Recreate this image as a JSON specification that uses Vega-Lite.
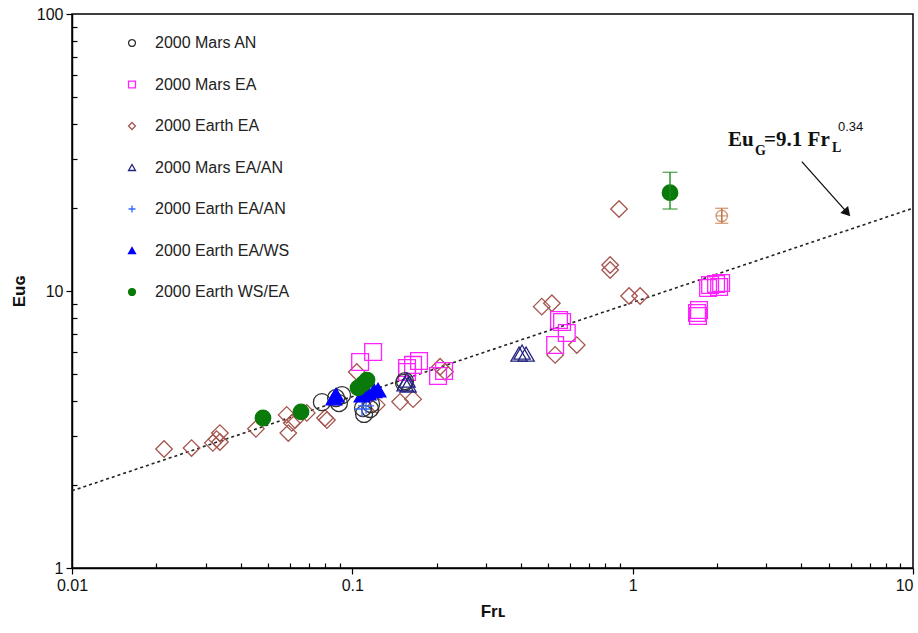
{
  "$schema": "https://vega.github.io/schema/vega-lite/v6.json",
  "width": 841,
  "height": 554,
  "autosize": {"type": "none"},
  "padding": {"left": 72, "top": 14, "right": 5, "bottom": 65},
  "background": "white",
  "config": {
    "view": {"stroke": "black", "strokeWidth": 1.5},
    "font": "Liberation Sans",
    "legend": {"orient": "none", "legendX": 52, "legendY": 21, "direction": "vertical", "rowPadding": 25.5, "labelFontSize": 16, "labelFont": "Liberation Sans", "labelColor": "#222222", "labelOffset": 15, "padding": 0, "symbolSize": 48, "symbolStrokeWidth": 1.3}
  },
  "layer": [
    {
      "data": {"values": [{"fr": 0.01, "eu": 1.90}, {"fr": 10, "eu": 19.9}]},
      "mark": {"type": "line", "strokeDash": [3, 3], "strokeWidth": 1.6, "color": "#222222"},
      "encoding": {
        "x": {"field": "fr", "type": "quantitative", "scale": {"type": "log", "domain": [0.01, 10], "nice": false},
          "title": "Frʟ",
          "axis": {
            "values": [0.01,0.02,0.03,0.04,0.05,0.06,0.07,0.08,0.09,0.1,0.2,0.3,0.4,0.5,0.6,0.7,0.8,0.9,1,2,3,4,5,6,7,8,9,10],
            "format": "~g",
            "labelExpr": "(datum.value == 0.01 || datum.value == 0.1 || datum.value == 1 || datum.value == 10) ? datum.label : ''",
            "tickSize": {"condition": {"test": "datum.value == 0.01 || datum.value == 0.1 || datum.value == 1 || datum.value == 10", "value": 6}, "value": -5},
            "labelAlign": {"condition": {"test": "datum.value == 10", "value": "right"}, "value": "center"},
            "grid": false, "domainColor": "black", "domainWidth": 1.5, "tickColor": "black", "tickWidth": 1.2,
            "labelFontSize": 16, "labelColor": "#111111", "labelFont": "Liberation Sans", "labelPadding": 3,
            "labelOverlap": false, "labelFlush": false,
            "titleFontSize": 17, "titleFontWeight": "bold", "titleColor": "#111111", "titlePadding": 10, "titleFont": "Liberation Sans"
          }
        },
        "y": {"field": "eu", "type": "quantitative", "scale": {"type": "log", "domain": [1, 100], "nice": false},
          "title": "Euɢ",
          "axis": {
            "values": [1,2,3,4,5,6,7,8,9,10,20,30,40,50,60,70,80,90,100],
            "format": "~g",
            "labelExpr": "(datum.value == 1 || datum.value == 10 || datum.value == 100) ? datum.label : ''",
            "tickSize": {"condition": {"test": "datum.value == 1 || datum.value == 10 || datum.value == 100", "value": 6}, "value": -5},
            "grid": false, "domainColor": "black", "domainWidth": 1.5, "tickColor": "black", "tickWidth": 1.2,
            "labelFontSize": 16, "labelColor": "#111111", "labelFont": "Liberation Sans", "labelPadding": 3,
            "labelOverlap": false, "labelFlush": false,
            "titleFontSize": 17, "titleFontWeight": "bold", "titleColor": "#111111", "titlePadding": 8, "titleFont": "Liberation Sans"
          }
        }
      }
    },
    {
      "data": {"values": [
        {"series": "2000 Earth EA", "fr": 0.0213, "eu": 2.69},
        {"series": "2000 Earth EA", "fr": 0.0267, "eu": 2.71},
        {"series": "2000 Earth EA", "fr": 0.0318, "eu": 2.83},
        {"series": "2000 Earth EA", "fr": 0.0328, "eu": 2.92},
        {"series": "2000 Earth EA", "fr": 0.0337, "eu": 3.07},
        {"series": "2000 Earth EA", "fr": 0.0337, "eu": 2.85},
        {"series": "2000 Earth EA", "fr": 0.0453, "eu": 3.18},
        {"series": "2000 Earth EA", "fr": 0.0583, "eu": 3.57},
        {"series": "2000 Earth EA", "fr": 0.0591, "eu": 3.07},
        {"series": "2000 Earth EA", "fr": 0.0608, "eu": 3.34},
        {"series": "2000 Earth EA", "fr": 0.0625, "eu": 3.42},
        {"series": "2000 Earth EA", "fr": 0.0688, "eu": 3.63},
        {"series": "2000 Earth EA", "fr": 0.0799, "eu": 3.48},
        {"series": "2000 Earth EA", "fr": 0.0812, "eu": 3.42},
        {"series": "2000 Earth EA", "fr": 0.1037, "eu": 5.10},
        {"series": "2000 Earth EA", "fr": 0.1222, "eu": 3.88},
        {"series": "2000 Earth EA", "fr": 0.148, "eu": 3.98},
        {"series": "2000 Earth EA", "fr": 0.1647, "eu": 4.07},
        {"series": "2000 Earth EA", "fr": 0.2056, "eu": 5.33},
        {"series": "2000 Earth EA", "fr": 0.2141, "eu": 5.11},
        {"series": "2000 Earth EA", "fr": 0.474, "eu": 8.78},
        {"series": "2000 Earth EA", "fr": 0.515, "eu": 9.03},
        {"series": "2000 Earth EA", "fr": 0.529, "eu": 5.88},
        {"series": "2000 Earth EA", "fr": 0.632, "eu": 6.38},
        {"series": "2000 Earth EA", "fr": 0.831, "eu": 12.41},
        {"series": "2000 Earth EA", "fr": 0.831, "eu": 11.91},
        {"series": "2000 Earth EA", "fr": 0.894, "eu": 19.77},
        {"series": "2000 Earth EA", "fr": 0.971, "eu": 9.59},
        {"series": "2000 Earth EA", "fr": 1.063, "eu": 9.59},
        {"series": "2000 Mars EA", "fr": 0.1066, "eu": 5.54},
        {"series": "2000 Mars EA", "fr": 0.1186, "eu": 6.02},
        {"series": "2000 Mars EA", "fr": 0.1567, "eu": 5.27},
        {"series": "2000 Mars EA", "fr": 0.1647, "eu": 5.41},
        {"series": "2000 Mars EA", "fr": 0.173, "eu": 5.59},
        {"series": "2000 Mars EA", "fr": 0.1567, "eu": 5.10},
        {"series": "2000 Mars EA", "fr": 0.2022, "eu": 4.93},
        {"series": "2000 Mars EA", "fr": 0.2125, "eu": 5.14},
        {"series": "2000 Mars EA", "fr": 0.546, "eu": 7.86},
        {"series": "2000 Mars EA", "fr": 0.560, "eu": 7.73},
        {"series": "2000 Mars EA", "fr": 0.582, "eu": 7.05},
        {"series": "2000 Mars EA", "fr": 0.529, "eu": 6.38},
        {"series": "2000 Mars EA", "fr": 1.697, "eu": 8.33},
        {"series": "2000 Mars EA", "fr": 1.711, "eu": 8.12},
        {"series": "2000 Mars EA", "fr": 1.725, "eu": 8.54},
        {"series": "2000 Mars EA", "fr": 1.858, "eu": 10.25},
        {"series": "2000 Mars EA", "fr": 1.889, "eu": 10.51},
        {"series": "2000 Mars EA", "fr": 1.984, "eu": 10.60},
        {"series": "2000 Mars EA", "fr": 2.034, "eu": 10.34},
        {"series": "2000 Mars EA", "fr": 2.068, "eu": 10.69},
        {"series": "2000 Mars AN", "fr": 0.0779, "eu": 3.97},
        {"series": "2000 Mars AN", "fr": 0.0875, "eu": 4.11},
        {"series": "2000 Mars AN", "fr": 0.0896, "eu": 3.94},
        {"series": "2000 Mars AN", "fr": 0.0919, "eu": 4.21},
        {"series": "2000 Mars AN", "fr": 0.1092, "eu": 3.78},
        {"series": "2000 Mars AN", "fr": 0.1101, "eu": 3.60},
        {"series": "2000 Mars AN", "fr": 0.1157, "eu": 3.75},
        {"series": "2000 Mars AN", "fr": 0.1166, "eu": 3.91},
        {"series": "2000 Mars AN", "fr": 0.1529, "eu": 4.66},
        {"series": "2000 Mars AN", "fr": 0.1541, "eu": 4.73},
        {"series": "2000 Mars EA/AN", "fr": 0.1542, "eu": 4.62},
        {"series": "2000 Mars EA/AN", "fr": 0.1567, "eu": 4.77},
        {"series": "2000 Mars EA/AN", "fr": 0.158, "eu": 4.58},
        {"series": "2000 Mars EA/AN", "fr": 0.3933, "eu": 5.92},
        {"series": "2000 Mars EA/AN", "fr": 0.4031, "eu": 6.02},
        {"series": "2000 Mars EA/AN", "fr": 0.4166, "eu": 5.92},
        {"series": "2000 Earth EA/AN", "fr": 0.1083, "eu": 3.75},
        {"series": "2000 Earth EA/AN", "fr": 0.1119, "eu": 3.85},
        {"series": "2000 Earth EA/WS", "fr": 0.0860, "eu": 4.11},
        {"series": "2000 Earth EA/WS", "fr": 0.0875, "eu": 4.21},
        {"series": "2000 Earth EA/WS", "fr": 0.1083, "eu": 4.21},
        {"series": "2000 Earth EA/WS", "fr": 0.1138, "eu": 4.28},
        {"series": "2000 Earth EA/WS", "fr": 0.1195, "eu": 4.36},
        {"series": "2000 Earth EA/WS", "fr": 0.1235, "eu": 4.39},
        {"series": "2000 Earth WS/EA", "fr": 0.048, "eu": 3.48},
        {"series": "2000 Earth WS/EA", "fr": 0.0656, "eu": 3.66},
        {"series": "2000 Earth WS/EA", "fr": 0.1048, "eu": 4.47},
        {"series": "2000 Earth WS/EA", "fr": 0.1092, "eu": 4.62},
        {"series": "2000 Earth WS/EA", "fr": 0.1128, "eu": 4.77},
        {"series": "2000 Earth WS/EA", "fr": 1.359, "eu": 22.64}
      ]},
      "mark": {"type": "point", "strokeWidth": 1.3, "opacity": 1},
      "encoding": {
        "x": {"field": "fr", "type": "quantitative", "title": "Frʟ"},
        "y": {"field": "eu", "type": "quantitative", "title": "Euɢ"},
        "shape": {"field": "series", "type": "nominal",
          "scale": {"domain": ["2000 Mars AN","2000 Mars EA","2000 Earth EA","2000 Mars EA/AN","2000 Earth EA/AN","2000 Earth EA/WS","2000 Earth WS/EA"],
            "range": ["circle","square","diamond","triangle-up","M-1,0H1M0,-1V1","triangle-up","circle"]},
          "legend": {"title": null}},
        "stroke": {"field": "series", "type": "nominal",
          "scale": {"domain": ["2000 Mars AN","2000 Mars EA","2000 Earth EA","2000 Mars EA/AN","2000 Earth EA/AN","2000 Earth EA/WS","2000 Earth WS/EA"],
            "range": ["#333333","#ff22ff","#a5554f","#22227f","#3366ff","#0000ff","#0a7a0a"]},
          "legend": {"title": null}},
        "fill": {"field": "series", "type": "nominal",
          "scale": {"domain": ["2000 Mars AN","2000 Mars EA","2000 Earth EA","2000 Mars EA/AN","2000 Earth EA/AN","2000 Earth EA/WS","2000 Earth WS/EA"],
            "range": ["transparent","transparent","transparent","transparent","transparent","#0000ff","#0a7a0a"]},
          "legend": {"title": null}},
        "size": {"field": "series", "type": "nominal",
          "scale": {"domain": ["2000 Earth WS/EA","2000 Earth EA/WS","2000 Earth EA/AN","2000 Mars EA/AN","2000 Earth EA","2000 Mars EA","2000 Mars AN"],
            "range": [240, 290, 170, 290, 340, 240, 240]},
          "legend": null}
      }
    },
    {
      "data": {"values": [{"fr": 1.359, "lo": 19.77, "hi": 26.82}]},
      "mark": {"type": "errorbar", "ticks": {"size": 15}, "color": "#1e8a1e", "thickness": 1.4},
      "encoding": {
        "x": {"field": "fr", "type": "quantitative", "title": "Frʟ"},
        "y": {"field": "lo", "type": "quantitative", "title": "Euɢ"},
        "y2": {"field": "hi"}
      }
    },
    {
      "data": {"values": [{"fr": 2.079, "lo": 17.56, "hi": 19.89}]},
      "mark": {"type": "errorbar", "ticks": {"size": 13}, "color": "#c0703f", "thickness": 1.3},
      "encoding": {
        "x": {"field": "fr", "type": "quantitative", "title": "Frʟ"},
        "y": {"field": "lo", "type": "quantitative", "title": "Euɢ"},
        "y2": {"field": "hi"}
      }
    },
    {
      "data": {"values": [{"fr": 2.079, "eu": 18.66}]},
      "mark": {"type": "point", "shape": "circle", "size": 130, "stroke": "#c0703f", "strokeWidth": 1.3, "filled": false},
      "encoding": {
        "x": {"field": "fr", "type": "quantitative", "title": "Frʟ"},
        "y": {"field": "eu", "type": "quantitative", "title": "Euɢ"}
      }
    },
    {
      "data": {"values": [{"fr": 2.079, "eu": 18.66}]},
      "mark": {"type": "point", "shape": "M-1,0H1M0,-1V1", "size": 130, "stroke": "#c0703f", "strokeWidth": 1.3, "filled": false},
      "encoding": {
        "x": {"field": "fr", "type": "quantitative", "title": "Frʟ"},
        "y": {"field": "eu", "type": "quantitative", "title": "Euɢ"}
      }
    },
    {
      "data": {"values": [{"fr": 4.012, "eu": 29.30}, {"fr": 5.90, "eu": 18.9}]},
      "mark": {"type": "line", "color": "#111111", "strokeWidth": 1.3},
      "encoding": {
        "x": {"field": "fr", "type": "quantitative", "title": "Frʟ"},
        "y": {"field": "eu", "type": "quantitative", "title": "Euɢ"}
      }
    },
    {
      "data": {"values": [{"fr": 5.826, "eu": 19.16}]},
      "mark": {"type": "point", "shape": "triangle-up", "size": 110, "angle": 138, "filled": true, "color": "#111111", "opacity": 1},
      "encoding": {
        "x": {"field": "fr", "type": "quantitative", "title": "Frʟ"},
        "y": {"field": "eu", "type": "quantitative", "title": "Euɢ"}
      }
    },
    {
      "data": {"values": [{"fr": 2.19, "eu": 33.38, "t": "Eu"}, {"fr": 2.943, "eu": 33.38, "t": "=9.1 Fr"}]},
      "mark": {"type": "text", "align": "left", "baseline": "alphabetic", "font": "Liberation Serif", "fontSize": 21, "fontWeight": "bold", "color": "#111111"},
      "encoding": {
        "x": {"field": "fr", "type": "quantitative", "title": "Frʟ"},
        "y": {"field": "eu", "type": "quantitative", "title": "Euɢ"},
        "text": {"field": "t"}
      }
    },
    {
      "data": {"values": [{"fr": 2.734, "eu": 30.97, "t": "G"}, {"fr": 5.141, "eu": 31.77, "t": "L"}]},
      "mark": {"type": "text", "align": "left", "baseline": "alphabetic", "font": "Liberation Serif", "fontSize": 14, "fontWeight": "bold", "color": "#111111"},
      "encoding": {
        "x": {"field": "fr", "type": "quantitative", "title": "Frʟ"},
        "y": {"field": "eu", "type": "quantitative", "title": "Euɢ"},
        "text": {"field": "t"}
      }
    },
    {
      "data": {"values": [{"fr": 5.402, "eu": 37.82, "t": "0.34"}]},
      "mark": {"type": "text", "align": "left", "baseline": "alphabetic", "font": "Liberation Sans", "fontSize": 13, "color": "#111111"},
      "encoding": {
        "x": {"field": "fr", "type": "quantitative", "title": "Frʟ"},
        "y": {"field": "eu", "type": "quantitative", "title": "Euɢ"},
        "text": {"field": "t"}
      }
    }
  ]
}
